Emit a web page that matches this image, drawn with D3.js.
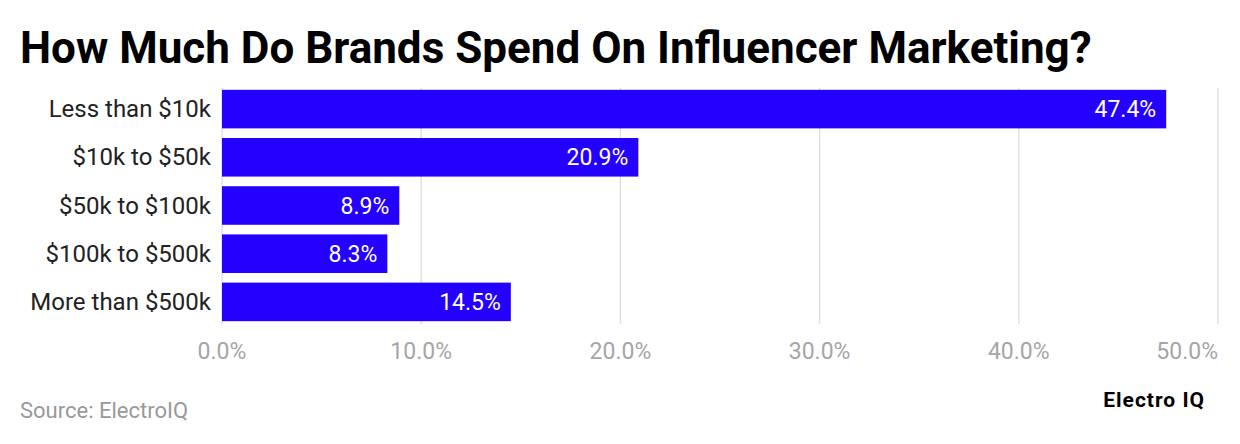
<!DOCTYPE html>
<html><head><meta charset="utf-8">
<script src="https://cdn.jsdelivr.net/npm/d3@7"></script>
<style>body{margin:0;background:#fff;font-family:Roboto,sans-serif}</style>
</head><body>
<svg id="chart" width="1240" height="444"></svg>
<script>
// data
const categories = ["Less than $10k", "$10k to $50k", "$50k to $100k", "$100k to $500k", "More than $500k"];
const values = [47.4, 20.9, 8.9, 8.3, 14.5];
const ticks = [0, 10, 20, 30, 40, 50];

const svg = d3.select("#chart");
const x = d3.scaleLinear().domain([0, 50]).range([222, 1218]);
const y = d3.scaleBand().domain(categories).range([85, 326]).paddingInner(0.2).paddingOuter(0.1);

svg.append("text").attr("x", 20).attr("y", 63)
    .attr("font-size", 44).attr("font-weight", 700).attr("fill", "#000")
    .text("How Much Do Brands Spend On Influencer Marketing?");

// grid
svg.selectAll(".grid").data(ticks).enter().append("line")
    .attr("x1", d => x(d)).attr("x2", d => x(d))
    .attr("y1", 88).attr("y2", 324)
    .attr("stroke", "#e0e0e0").attr("stroke-width", 1.5);

svg.selectAll(".tick").data(ticks).enter().append("text")
    .attr("x", d => x(d)).attr("y", 359)
    .attr("text-anchor", (d, i) => i === ticks.length - 1 ? "end" : "middle")
    .attr("font-size", 23).attr("fill", "#a6a6a6")
    .text(d => d.toFixed(1) + "%");

svg.selectAll(".bar").data(values).enter().append("rect")
    .attr("x", x(0)).attr("y", (d, i) => y(categories[i]))
    .attr("width", d => x(d) - x(0)).attr("height", y.bandwidth())
    .attr("fill", "#2300ff");

svg.selectAll(".val").data(values).enter().append("text")
    .attr("x", d => x(d) - 10).attr("y", (d, i) => y(categories[i]) + y.bandwidth() / 2 + 8)
    .attr("text-anchor", "end").attr("font-size", 23).attr("fill", "#fff")
    .text(d => d.toFixed(1) + "%");

svg.selectAll(".cat").data(categories).enter().append("text")
    .attr("x", 211).attr("y", d => y(d) + y.bandwidth() / 2 + 8)
    .attr("text-anchor", "end").attr("font-size", 24).attr("fill", "#222")
    .text(d => d);

svg.append("text").attr("x", 20).attr("y", 418)
    .attr("font-size", 22).attr("fill", "#999").text("Source: ElectroIQ");

svg.append("text").attr("x", 1205).attr("y", 407).attr("text-anchor", "end")
    .attr("font-size", 21).attr("font-weight", 700).attr("fill", "#000")
    .attr("letter-spacing", 1).text("Electro IQ");
</script>
</body></html>
